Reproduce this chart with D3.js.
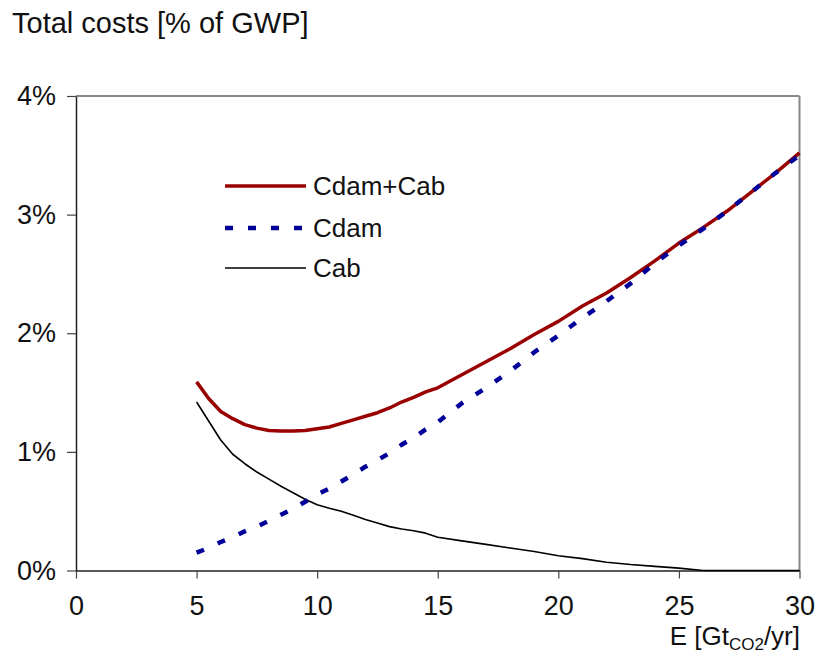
<!DOCTYPE html>
<html>
<head>
<meta charset="utf-8">
<script src="https://cdn.jsdelivr.net/npm/d3@7"></script>
<style>
  html, body { margin: 0; padding: 0; background: #fff; }
  svg { display: block; font-family: "Liberation Sans", Arial, sans-serif; }
</style>
</head>
<body>
<svg id="chart" width="816" height="667"></svg>
<script>
// Emissions E [Gt CO2/yr]
const emissions = [5, 5.5, 6, 6.5, 7, 7.5, 8, 8.5, 9, 9.5, 10, 10.5, 11, 11.5, 12, 12.5,
  13, 13.5, 14, 14.5, 15, 16, 17, 18, 19, 20, 21, 22, 23, 24, 25, 26, 27, 28, 29, 30];

// Damage + abatement costs [% of GWP]
const cdamCab = [1.59, 1.45, 1.34, 1.28, 1.23, 1.20, 1.18, 1.175, 1.175, 1.18, 1.195, 1.21,
  1.24, 1.27, 1.30, 1.33, 1.37, 1.42, 1.46, 1.505, 1.54, 1.65, 1.76, 1.87, 1.99, 2.10,
  2.23, 2.34, 2.47, 2.61, 2.76, 2.89, 3.03, 3.19, 3.35, 3.52];

// Damage costs [% of GWP]
const cdam = [0.15, 0.19, 0.24, 0.28, 0.33, 0.37, 0.42, 0.47, 0.52, 0.58, 0.64, 0.69,
  0.75, 0.81, 0.875, 0.93, 0.99, 1.06, 1.12, 1.19, 1.25, 1.41, 1.54, 1.68, 1.84, 1.98,
  2.13, 2.27, 2.42, 2.59, 2.74, 2.88, 3.03, 3.19, 3.35, 3.50];

// Abatement costs [% of GWP]
const cab = [1.42, 1.26, 1.10, 0.98, 0.90, 0.83, 0.77, 0.71, 0.655, 0.60, 0.555, 0.525,
  0.50, 0.465, 0.43, 0.40, 0.37, 0.35, 0.335, 0.315, 0.28, 0.25, 0.22, 0.19, 0.16, 0.125,
  0.10, 0.07, 0.05, 0.035, 0.02, 0, 0, 0, 0, 0];

const xTicks = [0, 5, 10, 15, 20, 25, 30];
const yTicks = [0, 1, 2, 3, 4];

const seriesNames = ["Cdam+Cab", "Cdam", "Cab"];

const svg = d3.select("#chart");
const margin = { left: 76, right: 16, top: 96, bottom: 96 };
const W = 816, H = 667;

const x = d3.scaleLinear().domain([0, 30]).range([margin.left, W - margin.right - 0.5]);
const y = d3.scaleLinear().domain([0, 4]).range([H - margin.bottom - 0.5, margin.top]);

// Title
svg.append("text")
  .attr("x", 12).attr("y", 33)
  .attr("font-size", 29).attr("fill", "#111")
  .text("Total costs [% of GWP]");

// Plot frame: grey top and right edges
svg.append("line")
  .attr("x1", x(0)).attr("x2", x(30)).attr("y1", y(4)).attr("y2", y(4))
  .attr("stroke", "#888").attr("stroke-width", 2);
svg.append("line")
  .attr("x1", x(30)).attr("x2", x(30)).attr("y1", y(4)).attr("y2", y(0))
  .attr("stroke", "#888").attr("stroke-width", 2);

// Axes
const xAxis = d3.axisBottom(x).tickValues(xTicks).tickSize(8).tickSizeOuter(0).tickPadding(17)
  .tickFormat(d3.format("d"));
const yAxis = d3.axisLeft(y).tickValues(yTicks).tickSize(9).tickSizeOuter(0).tickPadding(11)
  .tickFormat(d => d + "%");

const gx = svg.append("g").attr("transform", `translate(0,${y(0)})`).call(xAxis);
const gy = svg.append("g").attr("transform", `translate(${x(0)},0)`).call(yAxis);

[gx, gy].forEach(g => {
  g.select(".domain").attr("stroke", "#222").attr("stroke-width", 1.5);
  g.selectAll(".tick line").attr("stroke", "#444").attr("stroke-width", 1.2);
  g.selectAll(".tick text").attr("font-size", 27).attr("fill", "#111")
    .attr("font-family", "Liberation Sans, Arial, sans-serif");
});

// X-axis title with CO2 subscript
const xl = svg.append("text")
  .attr("x", 800).attr("y", 645)
  .attr("text-anchor", "end")
  .attr("font-size", 26).attr("fill", "#111");
xl.append("tspan").text("E [Gt");
xl.append("tspan").attr("font-size", 17).attr("dy", 5).text("CO2");
xl.append("tspan").attr("dy", -5).text("/yr]");

// Series styles
const styles = [
  { values: cdamCab, color: "#990000", width: 3.5, dash: null },
  { values: cdam, color: "#000099", width: 4.5, dash: "8,15" },
  { values: cab, color: "#000000", width: 1.6, dash: null }
];

const line = d3.line()
  .x(d => x(d[0]))
  .y(d => y(d[1]));

// draw Cab first, then Cdam+Cab, then Cdam on top
[2, 0, 1].forEach(i => {
  const s = styles[i];
  const pts = emissions.map((e, k) => [e, s.values[k]]);
  const p = svg.append("path")
    .datum(pts)
    .attr("d", line)
    .attr("fill", "none")
    .attr("stroke", s.color)
    .attr("stroke-width", s.width)
    .attr("stroke-linejoin", "round");
  if (s.dash) p.attr("stroke-dasharray", s.dash);
});

// Legend
const legendX1 = 225, legendX2 = 306, legendY = [186, 228, 268];
seriesNames.forEach((name, i) => {
  const s = styles[i];
  const l = svg.append("line")
    .attr("x1", legendX1).attr("x2", legendX2)
    .attr("y1", legendY[i]).attr("y2", legendY[i])
    .attr("stroke", s.color).attr("stroke-width", s.width);
  if (s.dash) l.attr("stroke-dasharray", s.dash);
  svg.append("text")
    .attr("x", 313).attr("y", legendY[i])
    .attr("dy", "0.35em")
    .attr("font-size", 26).attr("fill", "#111")
    .text(name);
});
</script>
</body>
</html>
